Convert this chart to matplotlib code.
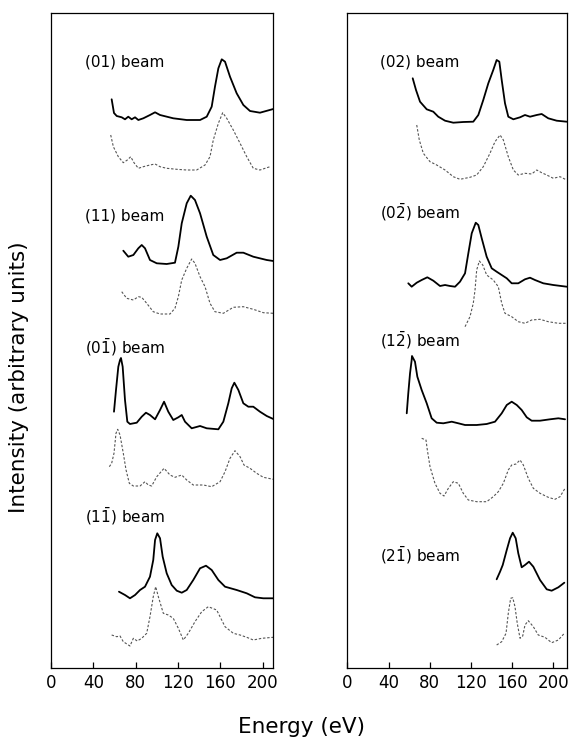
import matplotlib
matplotlib.use("Agg")
import matplotlib.pyplot as plt

# ---------------- data (energy in eV, intensity in arbitrary units incl. offset) -------------
# Left panel
e_01_a = [57.3, 59.5, 62.1, 66.8, 69.9, 73.0, 76.2, 79.4, 82.5, 87.2, 93.5, 98.3, 103.0, 115.5, 128.2, 140.8, 147.1, 151.8, 154.9, 158.1, 161.3, 164.4, 169.1, 175.4, 181.7, 188.0, 197.4, 210.0]
i_01_a = [568.7, 555, 552, 550.7, 548.7, 551.3, 548.7, 550.7, 548, 549.7, 553, 555.7, 553, 549.7, 548, 548, 551.3, 561.3, 581.3, 599.7, 608.7, 606.3, 591.3, 574.7, 563, 557, 555.3, 559]
e_01_b = [56.4, 58.9, 63.6, 68.3, 72.1, 75.3, 78.4, 82.5, 87.2, 93.5, 98.3, 103.0, 109.3, 118.8, 128.2, 137.6, 145.5, 150.2, 153.3, 158.1, 162.2, 166.0, 172.2, 178.6, 184.9, 191.1, 197.4, 206.9]
i_01_b = [533, 521.3, 511.3, 505.3, 508, 511.3, 505.3, 499.7, 501.3, 503, 504, 501.3, 499.7, 498.7, 498, 498, 503, 511.3, 528, 544.7, 555.3, 549.7, 538, 524.7, 511.3, 499.7, 498, 501.3]

e_11_a = [68.3, 73.0, 77.8, 82.5, 85.7, 88.8, 93.5, 99.9, 109.3, 117.1, 120.3, 123.5, 128.2, 132.0, 136.0, 140.8, 147.1, 153.3, 159.7, 166.0, 175.4, 181.7, 191.1, 203.8, 210.0]
i_11_a = [417.3, 411.3, 413, 419.7, 423, 419.7, 408, 404.7, 404, 405.3, 421.3, 444.7, 464.7, 472.3, 468, 454.7, 431.3, 413, 408, 409.7, 415.3, 415.3, 411.3, 408, 407]
e_11_b = [66.8, 71.5, 77.8, 82.5, 85.7, 90.4, 96.6, 103.0, 112.4, 117.1, 120.3, 123.5, 128.2, 132.9, 136.0, 140.8, 145.5, 150.2, 154.9, 162.8, 172.2, 181.7, 191.1, 200.6, 210.0]
i_11_b = [376.3, 369.7, 368, 371.3, 370.7, 364.7, 356.3, 354, 354, 359.7, 371.3, 388, 399.7, 409, 404.7, 391.3, 381.3, 364.7, 356.3, 354.7, 360.7, 361.3, 358.7, 355.3, 354.7]

e_01bar_a = [59.5, 61.4, 63.6, 65.2, 66.1, 67.7, 69.9, 72.1, 74.6, 81.0, 85.7, 89.7, 93.5, 98.3, 103.0, 106.8, 110.8, 115.5, 120.3, 123.5, 126.6, 132.9, 140.8, 147.1, 158.1, 162.8, 167.5, 170.7, 173.2, 177.0, 181.7, 186.4, 191.1, 197.4, 203.8, 210.0]
i_01bar_a = [256.3, 278, 301.3, 308, 310, 301.3, 268, 246.3, 244, 245.3, 251.3, 255.3, 253, 248.7, 258, 266.3, 256.3, 248, 250.7, 253, 246.3, 239.7, 242, 239.7, 238.7, 246.3, 264.7, 279.7, 285.3, 278, 264.7, 261.3, 261.3, 256.3, 252, 249]
e_01bar_b = [55.1, 57.3, 59.5, 61.4, 63.0, 65.2, 68.3, 70.9, 74.0, 77.8, 84.1, 88.8, 91.9, 95.1, 99.9, 106.8, 112.4, 117.1, 123.5, 128.2, 134.4, 143.9, 151.8, 159.7, 164.4, 169.1, 173.8, 178.6, 182.3, 188.0, 194.3, 200.6, 210.0]
i_01bar_b = [201.3, 204.7, 214.7, 234.7, 238.7, 233, 214.7, 198, 184.7, 182, 182, 186.3, 183, 182, 191.3, 199.7, 193, 190.7, 193, 188, 183, 183, 181.3, 186.3, 196.3, 209.7, 217.3, 211.3, 203, 199.7, 194.7, 190.7, 188.7]

e_11bar_a = [64.2, 69.9, 74.6, 79.4, 84.1, 88.8, 93.5, 96.6, 98.3, 100.4, 103.0, 105.5, 109.3, 114.0, 118.8, 123.5, 128.2, 134.4, 140.8, 146.4, 151.8, 158.1, 164.4, 175.4, 184.9, 192.7, 200.6, 210.0]
i_11bar_a = [76.3, 73, 69.7, 73, 78, 81.3, 91.3, 108, 128, 134.7, 129.7, 111.3, 94.7, 83, 77.3, 75.3, 78, 88, 99.7, 102.3, 98, 88, 81.3, 78, 74.7, 70.7, 69.7, 69.7]
e_11bar_b = [57.3, 62.1, 65.2, 68.3, 74.6, 77.8, 81.5, 85.7, 90.4, 93.5, 96.6, 98.9, 101.4, 106.1, 110.8, 115.5, 120.3, 125.0, 129.7, 136.0, 142.4, 148.6, 156.5, 164.4, 172.2, 178.6, 184.9, 191.1, 199.1, 210.0]
i_11bar_b = [33, 31.3, 32, 26.3, 22, 29.7, 27, 29.7, 34.7, 51.3, 71.3, 81.3, 71.3, 54.7, 53, 49.7, 39.7, 28, 34.7, 46.3, 56.3, 61.3, 58, 41.3, 34.7, 33, 30.7, 28, 29.7, 30.7]

# Right panel
e_02_a = [63.5, 66.7, 70.6, 77.1, 83.5, 88.3, 94.9, 102.9, 112.6, 122.3, 127.2, 132.0, 136.9, 141.7, 145.0, 147.6, 149.9, 153.1, 156.3, 161.2, 167.7, 172.5, 177.4, 183.9, 188.7, 195.1, 203.3, 213.0]
i_02_a = [589.7, 578, 566.3, 558.7, 556.3, 551.3, 547.3, 545.3, 546, 546.3, 553, 568, 584.7, 598, 608, 606.3, 588, 564.7, 551.3, 548.7, 550.7, 553, 551.3, 553, 554, 549.7, 547.3, 546.3]
e_02_b = [67.4, 69.9, 73.8, 80.3, 86.8, 94.9, 102.9, 109.4, 119.1, 125.6, 132.0, 138.5, 143.4, 148.3, 151.5, 156.3, 161.2, 166.0, 172.5, 179.0, 183.9, 188.7, 193.6, 200.0, 206.5, 213.0]
i_02_b = [543, 528, 514.7, 506.3, 503, 498, 491.3, 488.7, 490.7, 493, 501.3, 514.7, 526.3, 533, 528, 511.3, 498, 493, 494.7, 494, 498, 495.3, 493, 489.7, 491.3, 488]

e_02bar_a = [59.2, 62.5, 67.4, 72.2, 77.7, 83.5, 90.0, 94.9, 99.7, 104.6, 109.4, 114.3, 117.5, 120.8, 124.7, 127.2, 130.5, 135.3, 140.2, 145.0, 149.9, 154.8, 159.6, 166.0, 172.5, 177.4, 182.2, 190.3, 200.0, 213.0]
i_02bar_a = [384.7, 381.3, 385.3, 388, 390.7, 387.3, 382, 383, 382, 381.3, 386.3, 394.7, 414.7, 434.7, 445.3, 443, 429.7, 411.3, 399.7, 396.3, 393, 389.7, 384.7, 384.7, 388.7, 390.3, 388, 384.7, 383, 381.3]
e_02bar_b = [114.3, 119.1, 122.3, 124.0, 125.6, 128.2, 131.5, 135.3, 141.7, 146.6, 149.9, 153.1, 159.6, 166.0, 172.5, 179.0, 187.1, 195.1, 204.9, 213.0]
i_02bar_b = [341.3, 351.3, 364.7, 378, 398, 407, 403, 393, 388, 381.3, 364.7, 354.7, 351.3, 346.3, 344.7, 348, 348.7, 346.3, 344.7, 344.7]

e_12bar_a = [57.7, 59.2, 60.9, 62.5, 62.8, 65.7, 68.0, 72.2, 77.1, 81.9, 86.8, 93.2, 101.4, 107.8, 114.3, 125.6, 135.3, 143.4, 149.9, 154.8, 159.6, 164.5, 169.3, 174.2, 179.0, 187.1, 196.8, 204.9, 211.4]
i_12bar_a = [254.7, 274.7, 294.7, 308, 312, 306.3, 291.3, 278, 264.7, 249.7, 245.3, 244.7, 246.3, 244.7, 243, 243, 244, 246.3, 254.7, 263, 266.3, 263, 258, 250.7, 247.3, 247.3, 248.7, 249.7, 248.7]
e_12bar_b = [72.2, 76.4, 77.7, 80.3, 85.1, 90.0, 93.9, 98.1, 102.9, 107.8, 112.6, 117.5, 125.6, 135.3, 141.7, 146.6, 151.5, 156.3, 159.6, 163.8, 167.7, 170.9, 175.7, 180.6, 187.1, 195.1, 201.6, 206.5, 211.4]
i_12bar_b = [229.7, 228, 218, 201.3, 184.7, 174.7, 172, 179.7, 186.3, 184.7, 174.7, 168, 166.3, 166.3, 171.3, 176.3, 184.7, 198, 203, 204, 208, 203, 189.7, 179.7, 174.7, 170.7, 168.7, 171.3, 179.7]

e_21bar_a = [145.0, 148.3, 150.9, 154.8, 158.0, 160.6, 163.5, 166.0, 169.3, 172.5, 176.4, 180.6, 187.1, 193.6, 198.4, 204.9, 210.7]
i_21bar_a = [88.7, 96.3, 103, 118, 129.7, 135.3, 129.7, 114.7, 100.7, 103, 106.3, 101.3, 88, 78.7, 77.3, 80.7, 85.3]
e_21bar_b = [145.0, 149.9, 154.1, 156.3, 158.6, 160.6, 162.8, 165.0, 167.7, 170.3, 172.5, 175.7, 180.6, 185.4, 191.9, 198.4, 204.9, 210.7]
i_21bar_b = [23, 26.3, 34.7, 54.7, 69.7, 70.3, 61.3, 44.7, 29.7, 32, 43, 47.3, 41.3, 33, 30.7, 25.3, 28, 34.7]

left_labels = ["(01) beam", "(11) beam", "(0$\\bar{1}$) beam", "(1$\\bar{1}$) beam"]
left_label_y = [606, 452, 321, 152]
right_labels = ["(02) beam", "(0$\\bar{2}$) beam", "(1$\\bar{2}$) beam", "(2$\\bar{1}$) beam"]
right_label_y = [606, 456, 328, 113]
label_x = 32
tick_vals = [0, 40, 80, 120, 160, 200]

# ---------------- figure -------------
W, H = 574, 744
fig = plt.figure(figsize=(W / 100, H / 100), dpi=100)

def px_axes(x0, x1, y0, y1):
    return fig.add_axes([x0 / W, 1 - y1 / H, (x1 - x0) / W, (y1 - y0) / H])

axL = px_axes(51, 273.3, 13, 668)
axR = px_axes(347.3, 566.7, 13, 668)

solid_kw = dict(color="black", lw=1.3, solid_joinstyle="round", solid_capstyle="round")
dash_kw = dict(color="#555555", lw=0.8, dashes=(2.2, 1.6))

left_curves = [(e_01_a, i_01_a, e_01_b, i_01_b), (e_11_a, i_11_a, e_11_b, i_11_b),
               (e_01bar_a, i_01bar_a, e_01bar_b, i_01bar_b), (e_11bar_a, i_11bar_a, e_11bar_b, i_11bar_b)]
right_curves = [(e_02_a, i_02_a, e_02_b, i_02_b), (e_02bar_a, i_02bar_a, e_02bar_b, i_02bar_b),
                (e_12bar_a, i_12bar_a, e_12bar_b, i_12bar_b), (e_21bar_a, i_21bar_a, e_21bar_b, i_21bar_b)]

for ax, curves, labels, ly, xmax in [(axL, left_curves, left_labels, left_label_y, 210),
                                     (axR, right_curves, right_labels, right_label_y, 213)]:
    for ea, ia, eb, ib in curves:
        ax.plot(ea, ia, **solid_kw)
        ax.plot(eb, ib, **dash_kw)
    for lab, y in zip(labels, ly):
        ax.text(label_x, y, lab, fontsize=11, ha="left", va="center")
    ax.set_xlim(0, xmax)
    ax.set_ylim(0, 655)
    ax.set_xticks(tick_vals)
    ax.set_xticklabels([str(t) for t in tick_vals], fontsize=12)
    ax.set_yticks([])
    ax.tick_params(axis="x", direction="in", length=4, width=0.9, pad=4)
    for s in ax.spines.values():
        s.set_linewidth(0.9)

fig.text(19 / W, 1 - 377 / H, "Intensity (arbitrary units)", rotation=90,
         fontsize=15.5, ha="center", va="center")
fig.text(302 / W, 1 - 727 / H, "Energy (eV)", fontsize=15.5, ha="center", va="center")

fig.savefig("out.png", dpi=100)
